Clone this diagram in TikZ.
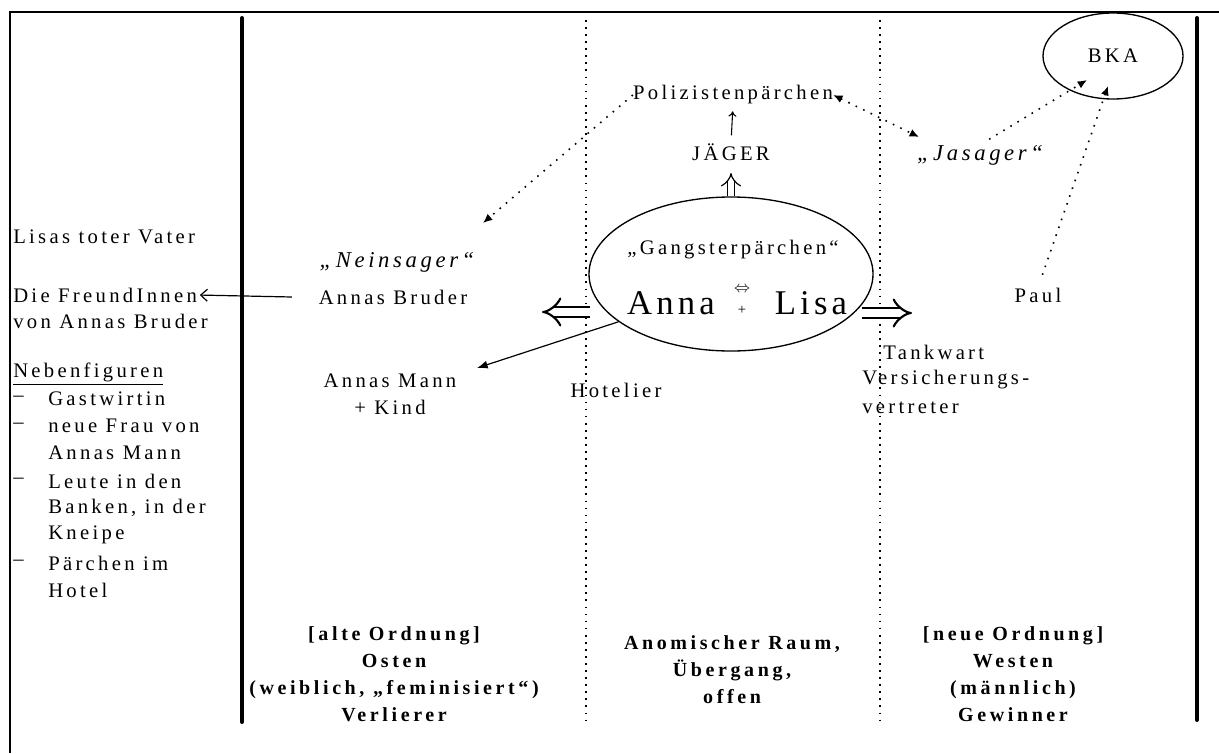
\documentclass[tikz,border=0pt]{standalone}
\usepackage{fontspec}
\setmainfont{Liberation Serif}[LetterSpace=16]
\usetikzlibrary{shapes,arrows.meta,positioning}

\begin{document}
\begin{tikzpicture}[x=0.75pt,y=-0.75pt]
  \tikzset{
    txt/.style={inner sep=0pt, font=\fontsize{15.5}{20.25}\selectfont},
    itxt/.style={inner sep=0pt, font=\fontsize{17}{20}\selectfont\itshape},
    bigtxt/.style={inner sep=0pt, font=\fontsize{26}{30}\selectfont\addfontfeature{LetterSpace=12}},
    bottxt/.style={inner sep=0pt, align=center, font=\fontsize{15}{20.25}\selectfont\bfseries\addfontfeature{LetterSpace=18}},
    bar/.style={line width=3pt, line cap=round},
    zone/.style={line width=1.3pt, dash pattern=on 1.3pt off 4pt},
    dotarrow/.style={line width=1.2pt, dash pattern=on 1.2pt off 5pt, -{Latex[length=7pt,width=6pt]}},
    bigarrow/.style={double, double distance=6pt, line width=1.6pt, -{Implies}},
    link/.style={line width=0.9pt, -{Latex[length=8pt,width=6pt]}}
  }
  \useasboundingbox (0,0) rectangle (1219,753);
  % frame and zones
  \draw[line width=1.2pt] (10,753) -- (10,12) -- (1219,12);
  \draw[bar] (242,18) -- (242,722);
  \draw[bar] (1197,18) -- (1197,720);
  \draw[zone] (586,20) -- (586,722);
  \draw[zone] (880,20) -- (880,722);

  % left column
  \node[txt, anchor=west] (vater) at (13,237) {Lisas toter Vater};
  \node[txt, anchor=west] (freund) at (13,295) {Die FreundInnen};
  \node[txt, anchor=west] (vonbruder) at (13,321) {von Annas Bruder};
  \node[txt, anchor=west] (neben) at (13,374) {\underline{Nebenfiguren}};
  \foreach \y [count=\i] in {399,426,481,563}
    \node[txt, anchor=west] (dash\i) at (13,\y) {–};
  \node[txt, anchor=west] (wirtin) at (48,399) {Gastwirtin};
  \node[txt, anchor=west] (frau) at (48,426) {neue Frau von};
  \node[txt, anchor=west] (frau2) at (48,453) {Annas Mann};
  \node[txt, anchor=west] (leute) at (48,481) {Leute in den};
  \node[txt, anchor=west] (leute2) at (48,508) {Banken, in der};
  \node[txt, anchor=west] (leute3) at (48,535) {Kneipe};
  \node[txt, anchor=west] (paar) at (48,563) {Pärchen im};
  \node[txt, anchor=west] (paar2) at (48,590) {Hotel};

  % east
  \node[itxt] (nein) at (397,262) {„Neinsager“};
  \node[txt] (bruder) at (393,297) {Annas Bruder};
  \node[txt, align=center] (mann) at (390,394) {Annas Mann\\+ Kind};

  % middle
  \node[txt] (polizist) at (733,95) {Polizistenpärchen};
  \node[txt] (jaeger) at (731,152) {JÄGER};
  \node[draw, ellipse, line width=1pt, minimum width=213pt, minimum height=115.5pt] (gang) at (731,274) {};
  \node[txt] (gangtitel) at (733,250) {„Gangsterpärchen“};
  \node[bigtxt] (anna) at (671,303) {Anna};
  \node[bigtxt] (lisa) at (811,303) {Lisa};
  \node[inner sep=0pt, font=\fontsize{12}{12}\selectfont] (tausch) at (742,290) {$\Leftrightarrow$};
  \node[inner sep=0pt, font=\fontsize{11}{11}\selectfont] (plus) at (742,310) {+};
  \node[txt] (hotelier) at (616,390) {Hotelier};

  % west
  \node[draw, ellipse, line width=1pt, minimum width=105pt, minimum height=64.5pt, txt] (bka) at (1113,56) {BKA};
  \node[itxt] (ja) at (980,155) {„Jasager“};
  \node[txt] (paul) at (1038,295) {Paul};
  \node[txt, anchor=west] (tank) at (883,352) {Tankwart};
  \node[txt, anchor=west] (vers) at (862,380) {Versicherungs-};
  \node[txt, anchor=west] (vers2) at (862,408) {vertreter};

  % bottom labels
  \node[bottxt] (osten) at (394,674) {[alte Ordnung]\\Osten\\(weiblich, „feminisiert“)\\Verlierer};
  \node[bottxt] (raum) at (732,670) {Anomischer Raum,\\Übergang,\\offen};
  \node[bottxt] (westen) at (1013,674) {[neue Ordnung]\\Westen\\(männlich)\\Gewinner};

  % connectors
  \coordinate (linkspfeil) at (542,312);
  \coordinate (linksstart) at (590,312);
  \coordinate (rechtsstart) at (862,313);
  \coordinate (rechtspfeil) at (912,313);
  \coordinate (obenpfeil) at (731,173);
  \coordinate (mannpt) at (477,368);
  \coordinate (neinpt) at (483,223);
  \coordinate (japt) at (919,137);
  \coordinate (bkapt) at (1087,80);
  \coordinate (bkapt2) at (1108,86);
  \draw[bigarrow] (linksstart) -- (linkspfeil);
  \draw[bigarrow] (rechtsstart) -- (rechtspfeil);
  \draw[double, double distance=4.5pt, line width=0.9pt, -{Implies}] (gang.north) -- (obenpfeil);
  \draw[line width=0.8pt, -{To[length=4pt,width=6pt]}, shorten <=6pt, shorten >=5pt] (jaeger.north) -- (polizist.south);
  \draw[link] (gang.203) -- (mannpt);
  \draw[line width=0.9pt, -{Straight Barb[length=5pt,width=9pt]}, shorten >=2pt] ([xshift=-20pt]bruder.west) -- (freund.east);
  \draw[dotarrow] (polizist.west) -- (neinpt);
  \draw[dotarrow, {Latex[length=7pt,width=6pt]}-{Latex[length=7pt,width=6pt]}] (polizist.east) -- (japt);
  \draw[dotarrow, shorten <=8pt] (ja.north) -- (bkapt);
  \draw[dotarrow, shorten <=10pt] (paul.north) -- (bkapt2);
\end{tikzpicture}
\end{document}
